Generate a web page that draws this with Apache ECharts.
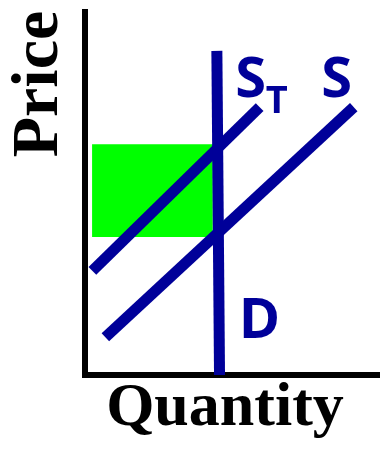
<!DOCTYPE html>
<html>
<head>
<meta charset="utf-8">
<script src="https://cdn.jsdelivr.net/npm/echarts@6/dist/echarts.min.js"></script>
<style>
  html, body { margin: 0; padding: 0; background: #fff; }
  #main { width: 380px; height: 449px; }
</style>
</head>
<body>
<div id="main"></div>
<script>
// curve end points, quantity (x) and price (y), axes run 0..100
var demandQ = [44.7, 45.6];
var demandP = [89.3, 0];
var supplyQ = [6.9, 91.1];
var supplyP = [10.4, 73.8];
var taxSupplyQ = [2.5, 59.2];
var taxSupplyP = [28.7, 73.8];
// shaded tax revenue box
var taxBoxQ = [2.4, 43.3];
var taxBoxP = [38.0, 63.6];
var axisNames = ['Quantity', 'Price'];

var navy = '#000099';
var labelFont = { fontFamily: 'Open Sans', fontWeight: 'bold', color: navy };

function pairs(xs, ys) {
	var out = [];
	for (var i = 0; i < xs.length; i++) out.push([xs[i], ys[i]]);
	return out;
}
function last(xs, ys) {
	return [xs[xs.length - 1], ys[ys.length - 1]];
}
function tag(coord, text, size, offset) {
	return {
		coord: coord,
		label: Object.assign({ show: true, formatter: text, fontSize: size, offset: offset }, labelFont)
	};
}

var myChart = echarts.init(document.getElementById('main'), null, { renderer: 'canvas' });

var axisLine = { show: true, onZero: false, lineStyle: { color: '#000', width: 6, cap: 'square' } };

var option = {
	animation: false,
	grid: { left: 85, top: 12, right: 0, bottom: 74 },
	xAxis: {
		type: 'value', min: 0, max: 100,
		axisLine: axisLine, axisTick: { show: false }, axisLabel: { show: false }, splitLine: { show: false }
	},
	yAxis: {
		type: 'value', min: 0, max: 100,
		axisLine: axisLine, axisTick: { show: false }, axisLabel: { show: false }, splitLine: { show: false }
	},
	graphic: [
		{
			type: 'text', x: 225, y: 409,
			style: { text: axisNames[0], font: 'bold 62px "Liberation Serif"', fill: '#000', align: 'center', verticalAlign: 'middle' }
		},
		{
			type: 'text', x: 40, y: 84, rotation: Math.PI / 2,
			style: { text: axisNames[1], font: 'bold 66px "Liberation Serif"', fill: '#000', align: 'center', verticalAlign: 'middle' }
		}
	],
	series: [
		{
			type: 'line', data: [], z: 1,
			markArea: {
				silent: true,
				itemStyle: { color: '#00ff00', opacity: 1 },
				data: [[{ coord: [taxBoxQ[0], taxBoxP[0]] }, { coord: [taxBoxQ[1], taxBoxP[1]] }]]
			}
		},
		{
			name: 'ST', type: 'line', z: 3, symbol: 'none',
			data: pairs(taxSupplyQ, taxSupplyP),
			lineStyle: { color: navy, width: 11, cap: 'butt' },
			markPoint: {
				symbolSize: 0,
				data: [
					tag(last(taxSupplyQ, taxSupplyP), 'S', 56, [-9, -26]),
					tag(last(taxSupplyQ, taxSupplyP), 'T', 38, [17, -5])
				]
			}
		},
		{
			name: 'S', type: 'line', z: 3, symbol: 'none',
			data: pairs(supplyQ, supplyP),
			lineStyle: { color: navy, width: 11, cap: 'butt' },
			markPoint: { symbolSize: 0, data: [tag(last(supplyQ, supplyP), 'S', 56, [-17, -26])] }
		},
		{
			name: 'D', type: 'line', z: 3, symbol: 'none',
			data: pairs(demandQ, demandP),
			lineStyle: { color: navy, width: 11, cap: 'butt' },
			markPoint: { symbolSize: 0, data: [tag(last(demandQ, demandP), 'D', 56, [40, -53])] }
		}
	]
};

myChart.setOption(option);
</script>
</body>
</html>
